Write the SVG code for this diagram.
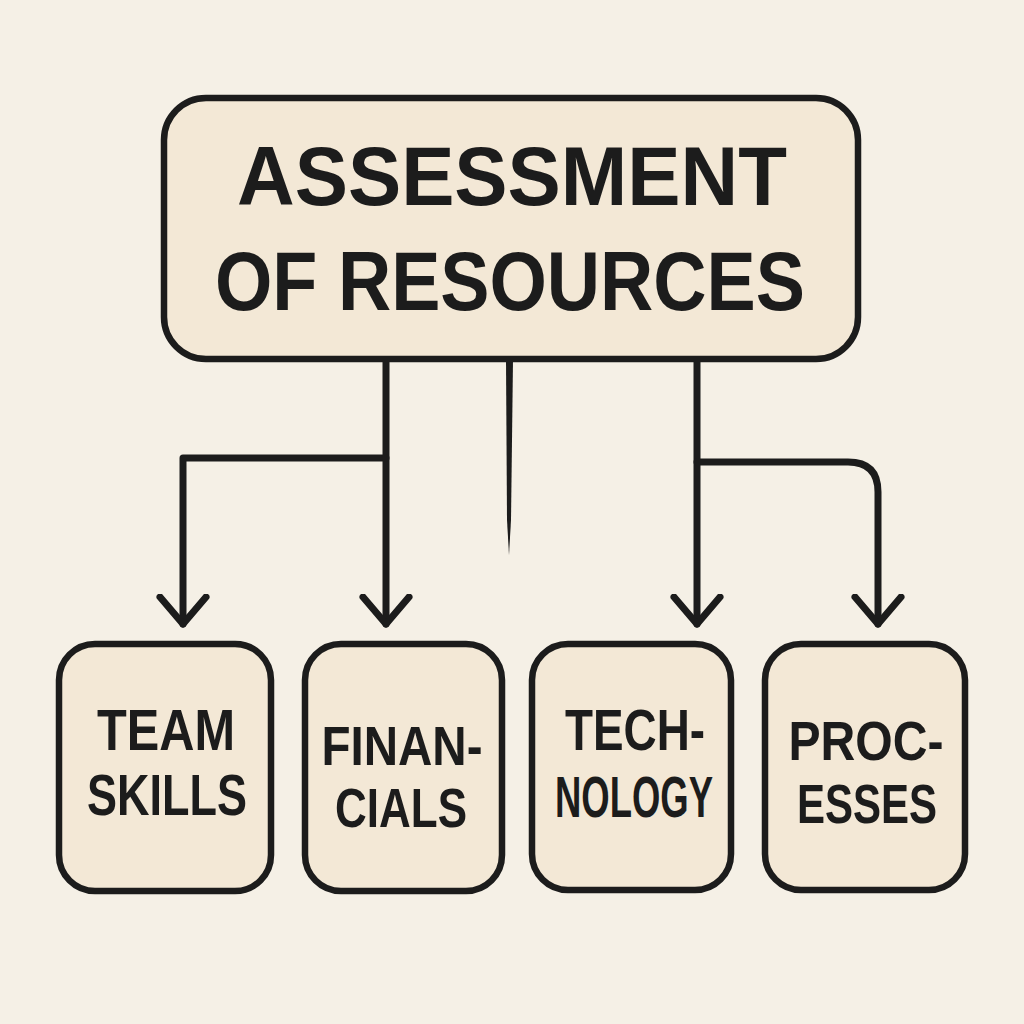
<svg xmlns="http://www.w3.org/2000/svg" width="1024" height="1024" viewBox="0 0 1024 1024">
<style>
.bg{fill:#f5f0e6}
.box{fill:#f3e8d6;stroke:#1c1c1c;stroke-width:6.5}
.t{font-family:"Liberation Sans",Arial,sans-serif;font-weight:bold;fill:#1c1c1c;text-anchor:middle}
.c{fill:none;stroke:#1c1c1c;stroke-width:7;stroke-linecap:round;stroke-linejoin:round}
</style>
<defs>
<marker id="ah" markerUnits="userSpaceOnUse" markerWidth="60" markerHeight="60" refX="30" refY="30" orient="auto" viewBox="0 0 60 60">
<path d="M3,7 L30,30 L3,53" fill="none" stroke="#1c1c1c" stroke-width="7" stroke-linecap="round" stroke-linejoin="round"/>
</marker>
</defs>
<rect class="bg" x="0" y="0" width="1024" height="1024"/>
<g id="connectors">
<path class="c" d="M386,360 V624" marker-end="url(#ah)"/>
<path class="c" d="M386,458 H183 V624" marker-end="url(#ah)"/>
<path class="c" d="M697,360 V624" marker-end="url(#ah)"/>
<path class="c" d="M697,462 H848 Q878,462 878,492 V624" marker-end="url(#ah)"/>
<path d="M506,360 L513,360 L511,520 L509,555 L507,520 Z" fill="#1c1c1c"/>
</g>
<g id="assessment">
<rect class="box" x="164" y="98" width="694" height="261" rx="42"/>
<text class="t" x="512" y="205" font-size="84" textLength="550" lengthAdjust="spacingAndGlyphs">ASSESSMENT</text>
<text class="t" x="510" y="310" font-size="84" textLength="590" lengthAdjust="spacingAndGlyphs">OF RESOURCES</text>
</g>
<g id="team-skills">
<rect class="box" x="59" y="644" width="212" height="247" rx="36"/>
<text class="t" x="166" y="750" font-size="58" textLength="138" lengthAdjust="spacingAndGlyphs">TEAM</text>
<text class="t" x="167" y="815" font-size="58" textLength="160" lengthAdjust="spacingAndGlyphs">SKILLS</text>
</g>
<g id="financials">
<rect class="box" x="305" y="644" width="197" height="247" rx="36"/>
<text class="t" x="402" y="765" font-size="55" textLength="161" lengthAdjust="spacingAndGlyphs">FINAN-</text>
<text class="t" x="401" y="827" font-size="55" textLength="132" lengthAdjust="spacingAndGlyphs">CIALS</text>
</g>
<g id="technology">
<rect class="box" x="532" y="644" width="199" height="246" rx="36"/>
<text class="t" x="635" y="750" font-size="57" textLength="140" lengthAdjust="spacingAndGlyphs">TECH-</text>
<text class="t" x="634" y="817" font-size="57" textLength="158" lengthAdjust="spacingAndGlyphs">NOLOGY</text>
</g>
<g id="processes">
<rect class="box" x="765" y="644" width="200" height="246" rx="36"/>
<text class="t" x="866" y="760" font-size="56" textLength="155" lengthAdjust="spacingAndGlyphs">PROC-</text>
<text class="t" x="867" y="823" font-size="56" textLength="140" lengthAdjust="spacingAndGlyphs">ESSES</text>
</g>
</svg>
